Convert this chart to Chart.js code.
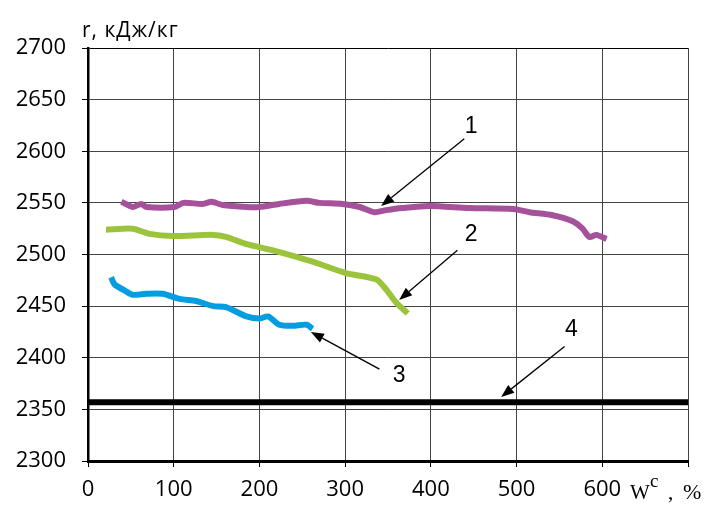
<!DOCTYPE html>
<html><head><meta charset="utf-8">
<script src="https://cdn.jsdelivr.net/npm/chart.js@4"></script>
<style>html,body{margin:0;padding:0;background:#fff}#wrap{width:710px;height:505px}</style>
</head><body><div id="wrap"><canvas id="c" width="710" height="505"></canvas></div>
<script>
// ---- data ----
const xTicks = [0,100,200,300,400,500,600,700];
const yTicks = [2300,2350,2400,2450,2500,2550,2600,2650,2700];
const curve1W = [39,52,62,68,101,111,134,144,157,185,200,223,255,270,297,317,334,348,367,398,445,496,515,542,566,577,585,593,605];
const curve1R = [2551,2546,2549,2546,2546,2550,2549,2551,2548,2546,2546,2549,2552,2550,2549,2546,2541,2543,2545,2547,2545,2544,2541,2538,2532,2525,2517,2519,2515];
const curve2W = [21,52,72,99,146,161,185,216,262,301,336,348,360,373];
const curve2R = [2524,2525,2520,2518,2519,2517,2510,2504,2493,2482,2476,2466,2453,2443];
const curve3W = [27,31,41,52,68,87,107,126,146,161,185,200,210,223,239,255,262];
const curve3R = [2478,2471,2466,2461,2462,2462,2457,2455,2450,2449,2440,2438,2440,2432,2431,2432,2428];
const line4W = [0,700];
const line4R = [2357,2357];
const labels = ['1','2','3','4'];
const labelPos = [[447,2624],[447,2519],[363,2383],[564,2427]];
const arrowTail = [[439,2612],[431,2504],[340,2389],[556,2411]];
const arrowHead = [[342,2547],[363,2456],[260,2425],[482,2362]];
const yTitle = 'r, кДж/кг';

const zip = (a,b)=>a.map((v,i)=>({x:v,y:b[i]}));
const FONT = '"Open Sans", "Noto Sans", sans-serif';
const SERIF = '"Liberation Serif", "Times New Roman", serif';

const annot = {
  id:'annot',
  afterDatasetsDraw(chart){
    const {ctx, scales:{x,y}} = chart;
    ctx.save();
    ctx.strokeStyle='#000'; ctx.fillStyle='#000'; ctx.lineWidth=1.3;
    for(let i=0;i<arrowTail.length;i++){
      const x1=x.getPixelForValue(arrowTail[i][0]), y1=y.getPixelForValue(arrowTail[i][1]);
      const x2=x.getPixelForValue(arrowHead[i][0]), y2=y.getPixelForValue(arrowHead[i][1]);
      const ang=Math.atan2(y2-y1,x2-x1), L=13, W=5;
      const bx=x2-L*Math.cos(ang), by=y2-L*Math.sin(ang);
      ctx.beginPath(); ctx.moveTo(x1,y1); ctx.lineTo(bx,by); ctx.stroke();
      ctx.beginPath(); ctx.moveTo(x2,y2);
      ctx.lineTo(bx+W*Math.sin(ang), by-W*Math.cos(ang));
      ctx.lineTo(bx-W*Math.sin(ang), by+W*Math.cos(ang));
      ctx.closePath(); ctx.fill();
    }
    ctx.font='23px "Liberation Sans", Arial, sans-serif'; ctx.textAlign='center'; ctx.textBaseline='middle';
    labels.forEach((t,i)=>ctx.fillText(t, x.getPixelForValue(labelPos[i][0]), y.getPixelForValue(labelPos[i][1])));
    // y title
    ctx.textAlign='left'; ctx.textBaseline='alphabetic';
    ctx.font='21px '+FONT;
    ctx.letterSpacing='1px';
    ctx.fillText(yTitle, 82, 37);
    ctx.letterSpacing='0px';
    // x title
    ctx.font='21px '+SERIF;
    ctx.fillText('W', 630, 499);
    ctx.font='19px '+SERIF;
    ctx.fillText('c', 650, 487);
    ctx.font='21px '+SERIF;
    ctx.fillText(',', 668, 499);
    ctx.font='22px '+SERIF;
    ctx.fillText('%', 683, 499);
    ctx.restore();
  }
};

const lineDs = (data,color,w)=>({data,borderColor:color,borderWidth:w,showLine:true,pointRadius:0,tension:0.25,fill:false,borderJoinStyle:'round',borderCapStyle:'butt'});

new Chart(document.getElementById('c'),{
  type:'scatter',
  data:{datasets:[
    lineDs(zip(curve1W,curve1R),'#a5529a',6),
    lineDs(zip(curve2W,curve2R),'#9bc43c',6),
    lineDs(zip(curve3W,curve3R),'#049ee0',6),
    {...lineDs(zip(line4W,line4R),'#000',6),tension:0}
  ]},
  options:{
    responsive:false, animation:false,
    layout:{padding:{top:48,right:22,left:0,bottom:0}},
    plugins:{legend:{display:false},tooltip:{enabled:false}},
    scales:{
      x:{type:'linear',min:0,max:700,
        afterBuildTicks(s){s.ticks=xTicks.map(v=>({value:v}));},
        afterFit(s){s.height=44;},
        ticks:{color:'#000',font:{family:FONT,size:22},padding:10,maxRotation:0,autoSkip:false,
          callback:v=>v===700?'':String(v)},
        grid:{color:'#444',lineWidth:1,tickLength:6,tickColor:'#000'},
        border:{color:'#000',width:3}},
      y:{type:'linear',min:2300,max:2700,
        afterBuildTicks(s){s.ticks=yTicks.map(v=>({value:v}));},
        afterFit(s){s.width=88;},
        ticks:{color:'#000',font:{family:FONT,size:22},padding:16,autoSkip:false,callback:v=>String(v)},
        grid:{color:(c)=>c.tick&&c.tick.value===2700?'#000':'#444',lineWidth:1,tickLength:6,tickColor:'#000'},
        border:{color:'#000',width:2.5}}
    }
  },
  plugins:[annot]
});
</script></body></html>
